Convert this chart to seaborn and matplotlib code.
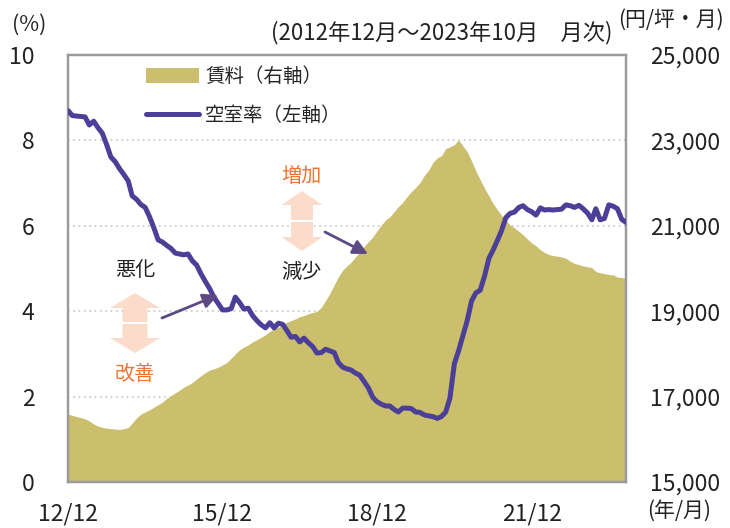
import matplotlib
matplotlib.use("Agg")
import matplotlib.pyplot as plt
from matplotlib.patches import Patch, Polygon
from matplotlib.lines import Line2D
import seaborn as sns
import pandas as pd

# monthly data, 2012/12 - 2023/10
start_month = "2012-12-01"

vacancy = [
    8.70, 8.58, 8.57, 8.56, 8.55, 8.36, 8.45, 8.30, 8.17, 7.90, 7.61, 7.50,
    7.34, 7.20, 7.05, 6.70, 6.62, 6.50, 6.43, 6.22, 5.96, 5.67, 5.62, 5.54,
    5.47, 5.36, 5.34, 5.32, 5.34, 5.18, 5.08, 4.88, 4.70, 4.53, 4.33, 4.18,
    4.03, 4.03, 4.06, 4.33, 4.20, 4.05, 4.07, 3.90, 3.78, 3.68, 3.61, 3.73,
    3.61, 3.72, 3.69, 3.55, 3.39, 3.41, 3.28, 3.37, 3.26, 3.17, 3.02, 3.03,
    3.11, 3.07, 3.03, 2.80, 2.69, 2.65, 2.62, 2.55, 2.50, 2.35, 2.20, 1.98,
    1.88, 1.82, 1.78, 1.78, 1.70, 1.64, 1.73, 1.73, 1.72, 1.64, 1.63, 1.57,
    1.55, 1.53, 1.49, 1.53, 1.64, 1.97, 2.77, 3.07, 3.43, 3.79, 4.24, 4.43,
    4.49, 4.82, 5.24, 5.42, 5.65, 5.88, 6.19, 6.29, 6.32, 6.43, 6.47, 6.38,
    6.33, 6.25, 6.42, 6.37, 6.38, 6.37, 6.38, 6.39, 6.49, 6.47, 6.43, 6.48,
    6.40, 6.30, 6.14, 6.40, 6.14, 6.17, 6.49, 6.46, 6.40, 6.15, 6.08,
]

rent = [
    16590, 16560, 16530, 16510, 16480, 16430, 16360, 16310, 16280, 16260, 16250, 16240,
    16230, 16250, 16280, 16380, 16500, 16590, 16640, 16690, 16750, 16810, 16870, 16960,
    17020, 17090, 17150, 17220, 17270, 17330, 17410, 17490, 17560, 17620, 17650, 17690,
    17740, 17800, 17900, 18000, 18100, 18160, 18210, 18280, 18330, 18390, 18450, 18530,
    18590, 18630, 18680, 18740, 18780, 18820, 18870, 18900, 18940, 18970, 19000, 19090,
    19250, 19420, 19620, 19800, 19960, 20060, 20150, 20270, 20390, 20520, 20630, 20740,
    20880, 21020, 21140, 21210, 21330, 21450, 21550, 21680, 21800, 21900, 22010, 22180,
    22300, 22480, 22590, 22640, 22810, 22850, 22900, 23010, 22870, 22730, 22520, 22280,
    22080, 21880, 21700, 21530, 21380, 21250, 21130, 21020, 20950, 20870, 20790, 20690,
    20600, 20530, 20440, 20380, 20330, 20300, 20290, 20270, 20240, 20170, 20120, 20090,
    20060, 20040, 20020, 19930, 19900, 19880, 19860, 19850, 19800, 19790, 19770,
]

x_ticks = ["2012-12-01", "2015-12-01", "2018-12-01", "2021-12-01"]
x_tick_labels = ["12/12", "15/12", "18/12", "21/12"]
left_ticks = [0, 2, 4, 6, 8, 10]
right_ticks = [15000, 17000, 19000, 21000, 23000, 25000]

AREA = "#CBBE6C"
LINE = "#4B3F97"
ARROW = "#5E4A82"
PEACH = "#FBDBCA"
ORANGE = "#EE7632"
SPINE = "#9A9A9A"
TEXT = "#222222"

W, H = 730, 528


def fx(px):
    return px / W


def fy(py):
    return 1 - py / H


def double_arrow(fig, cx, top, bottom, width, shaft, head):
    """Peach up/down arrow split by a thin white gap."""
    mid = (top + bottom) / 2
    hw, sw = width / 2, shaft / 2
    up = [(cx, top), (cx + hw, top + head), (cx + sw, top + head),
          (cx + sw, mid - 1), (cx - sw, mid - 1), (cx - sw, top + head),
          (cx - hw, top + head)]
    down = [(cx, bottom), (cx + hw, bottom - head), (cx + sw, bottom - head),
            (cx + sw, mid + 1), (cx - sw, mid + 1), (cx - sw, bottom - head),
            (cx - hw, bottom - head)]
    for pts in (up, down):
        fig.patches.append(Polygon([(fx(a), fy(b)) for a, b in pts], closed=True,
                                   transform=fig.transFigure, facecolor=PEACH,
                                   edgecolor="none", zorder=5))


def main():
    assert len(vacancy) == len(rent) == 131
    dates = pd.date_range(start_month, periods=len(vacancy), freq="MS")
    df = pd.DataFrame({"date": dates, "vacancy": vacancy, "rent": rent})

    sns.set_theme(style="white")
    plt.rcParams["font.family"] = ["Noto Sans CJK JP", "DejaVu Sans"]

    fig = plt.figure(figsize=(7.3, 5.28), dpi=100)
    ax = fig.add_axes([fx(68), fy(482), fx(626) - fx(68), fy(55) - fy(482)])
    ax2 = ax.twinx()

    # rent area on the right axis, drawn underneath
    ax2.fill_between(df["date"], 15000, df["rent"], color=AREA, linewidth=0, zorder=2)
    ax2.set_ylim(15000, 25000)
    ax2.set_yticks(right_ticks)
    ax2.set_yticklabels([f"{v:,}" for v in right_ticks])
    ax2.set_axisbelow(True)
    ax2.grid(axis="y", linestyle=(0, (1, 2.5)), color="#BDBDBD", linewidth=1.1)
    ax2.grid(axis="x", visible=False)

    # vacancy line on the left axis, on top
    ax.set_zorder(ax2.get_zorder() + 1)
    ax.patch.set_visible(False)
    sns.lineplot(data=df, x="date", y="vacancy", ax=ax, color=LINE, linewidth=3.6,
                 zorder=4)
    ax.set_ylim(0, 10)
    ax.set_yticks(left_ticks)
    ax.set_xlim(dates[0], dates[-1])
    ax.set_xticks(pd.to_datetime(x_ticks))
    ax.set_xticklabels(x_tick_labels)
    ax.set_xlabel("")
    ax.set_ylabel("")
    ax.grid(False)

    for a in (ax, ax2):
        for s in a.spines.values():
            s.set_color(SPINE)
            s.set_linewidth(1.6)
    ax.tick_params(axis="y", length=0, labelsize=16.5, pad=24, colors=TEXT)
    ax2.tick_params(axis="y", length=0, labelsize=16.5, pad=17, colors=TEXT)
    ax.tick_params(axis="x", direction="in", length=6, width=1.4, color=SPINE,
                   labelsize=16.5, pad=15, labelcolor=TEXT)

    # legend
    handles = [Patch(facecolor=AREA, edgecolor="none", label="賃料（右軸）"),
               Line2D([], [], color=LINE, linewidth=3.6, label="空室率（左軸）")]
    ax.legend(handles=handles, loc="upper left", bbox_to_anchor=(fx(146), fy(66)),
              bbox_transform=fig.transFigure, frameon=False, fontsize=14,
              handlelength=2.75, handleheight=0.85, handletextpad=0.3,
              labelspacing=0.95, borderpad=0, borderaxespad=0)

    # header texts
    fig.text(fx(29), fy(25), "(%)", fontsize=15.5, ha="center", va="center", color=TEXT)
    fig.text(fx(612), fy(33), "(2012年12月～2023年10月　月次)", fontsize=16,
             ha="right", va="center", color=TEXT)
    fig.text(fx(671), fy(20), "(円/坪・月)", fontsize=15, ha="center", va="center",
             color=TEXT)
    fig.text(fx(679), fy(511), "(年/月)", fontsize=15, ha="center", va="center",
             color=TEXT)

    # annotations
    fig.text(fx(301), fy(177), "増加", fontsize=14.5, ha="center", va="center", color=ORANGE)
    fig.text(fx(301), fy(272), "減少", fontsize=14.5, ha="center", va="center", color=TEXT)
    fig.text(fx(135), fy(270), "悪化", fontsize=14.5, ha="center", va="center", color=TEXT)
    fig.text(fx(135), fy(375), "改善", fontsize=14.5, ha="center", va="center", color=ORANGE)
    double_arrow(fig, 302, 191, 251, 41, 22, 14)
    double_arrow(fig, 135, 293, 353, 50, 25, 15)

    arrow_kw = dict(arrowstyle="-|>", color=ARROW, lw=2, mutation_scale=22,
                    shrinkA=0, shrinkB=0)
    ax.annotate("", xy=(fx(218), fy(295)), xytext=(fx(162), fy(318)),
                xycoords="figure fraction", textcoords="figure fraction",
                arrowprops=arrow_kw, zorder=6)
    ax.annotate("", xy=(fx(368), fy(254)), xytext=(fx(325), fy(232)),
                xycoords="figure fraction", textcoords="figure fraction",
                arrowprops=arrow_kw, zorder=6)

    fig.savefig("out.png", dpi=100)
    plt.close(fig)


if __name__ == "__main__":
    main()
